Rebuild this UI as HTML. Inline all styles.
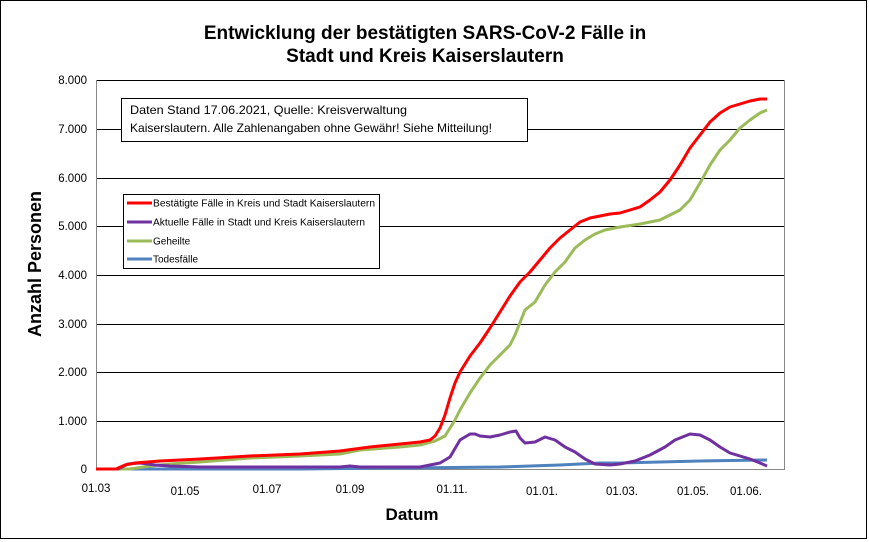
<!DOCTYPE html>
<html><head><meta charset="utf-8"><style>
html,body{margin:0;padding:0;background:#fff}
svg{display:block;font-family:"Liberation Sans",Arial,sans-serif}
</style></head><body>
<svg width="869" height="542" viewBox="0 0 869 542" xmlns="http://www.w3.org/2000/svg">
<rect x="0.5" y="0.5" width="866" height="538" fill="#fff" stroke="#000" stroke-width="1"/>
<text x="425" y="39" font-size="19" font-weight="bold" text-anchor="middle">Entwicklung der bestätigten SARS-CoV-2 Fälle in</text>
<text x="425" y="62" font-size="19" font-weight="bold" text-anchor="middle">Stadt und Kreis Kaiserslautern</text>
<g stroke="#000" stroke-width="1">
<line x1="96" y1="80.5" x2="784" y2="80.5"/>
<line x1="96" y1="129.5" x2="784" y2="129.5"/>
<line x1="96" y1="178.5" x2="784" y2="178.5"/>
<line x1="96" y1="226.5" x2="784" y2="226.5"/>
<line x1="96" y1="275.5" x2="784" y2="275.5"/>
<line x1="96" y1="324.5" x2="784" y2="324.5"/>
<line x1="96" y1="372.5" x2="784" y2="372.5"/>
<line x1="96" y1="421.5" x2="784" y2="421.5"/>
</g>
<line x1="96" y1="469.5" x2="784" y2="469.5" stroke="#888"/>
<line x1="784.5" y1="80" x2="784.5" y2="470" stroke="#888"/>
<line x1="96.5" y1="80" x2="96.5" y2="470" stroke="#888"/>
<g font-size="11.5" text-anchor="end">
<text x="87" y="84">8.000</text><text x="87" y="133">7.000</text><text x="87" y="182">6.000</text>
<text x="87" y="230">5.000</text><text x="87" y="279">4.000</text><text x="87" y="328">3.000</text>
<text x="87" y="376">2.000</text><text x="87" y="425">1.000</text><text x="87" y="473">0</text>
</g>
<g font-size="11.5" text-anchor="middle">
<text x="96" y="492">01.03</text><text x="185" y="495">01.05</text><text x="267" y="493">01.07</text>
<text x="350" y="493">01.09</text><text x="452" y="493">01.11.</text><text x="542" y="495">01.01.</text>
<text x="622" y="495">01.03.</text><text x="693" y="495">01.05.</text><text x="746" y="495">01.06.</text>
</g>
<text x="412" y="520" font-size="17" font-weight="bold" text-anchor="middle">Datum</text>
<text transform="translate(41,264) rotate(-90)" font-size="18" font-weight="bold" text-anchor="middle">Anzahl Personen</text>
<g fill="none" stroke-width="3" stroke-linejoin="round">
<polyline stroke="#4f81bd" points="96,469 300,469 500,467 560,465 600,463 620,463 700,461 767,460"/>
<polyline stroke="#9bbb59" points="96,469 130,469 150,466 170,464 200,462 250,458 300,456 340,454 360,450 400,447 420,445 435,441 445,436 455,420 460,410 470,393 480,378 490,365 500,355 510,345 515,335 525,310 535,302 545,285 555,272 565,262 575,248 585,240 595,234 605,230 620,227 640,224 660,220 680,210 690,200 700,183 710,165 720,150 730,140 740,128 750,120 760,113 767,110"/>
<polyline stroke="#7030a0" points="96,469 118,469 128,464 140,463 155,465 170,466 200,467 300,467 340,467 350,466 360,467 420,467 430,465 440,463 450,457 460,440 470,434 475,434 480,436 490,437 500,435 510,432 516,431 520,438 525,443 535,442 545,437 555,440 565,447 575,452 585,459 595,464 610,465 620,464 635,461 650,455 665,447 675,440 690,434 700,435 710,440 720,447 730,453 740,456 750,459 760,463 767,466"/>
<polyline stroke="#ff0000" points="96,469 116,469 125,465 135,463 160,461 200,459 250,456 300,454 340,451 370,447 400,444 420,442 430,440 435,436 440,428 445,415 450,398 455,383 460,372 465,364 470,356 480,343 490,328 500,312 510,296 520,282 530,272 540,260 550,248 560,238 570,230 580,222 590,218 600,216 610,214 620,213 630,210 640,207 650,200 660,192 670,180 680,165 690,148 700,135 710,122 720,113 730,107 740,104 750,101 760,99 767,99"/>
</g>
<rect x="121.5" y="98.5" width="406" height="43" fill="#fff" stroke="#000"/>
<text x="130" y="114" font-size="12" textLength="277" lengthAdjust="spacingAndGlyphs">Daten Stand 17.06.2021, Quelle: Kreisverwaltung</text>
<text x="130" y="132" font-size="12" textLength="362" lengthAdjust="spacingAndGlyphs">Kaiserslautern. Alle Zahlenangaben ohne Gewähr! Siehe Mitteilung!</text>
<rect x="123.5" y="194.5" width="256" height="74" fill="#fff" stroke="#000"/>
<g stroke-width="3">
<line x1="127" y1="203" x2="152" y2="203" stroke="#ff0000"/>
<line x1="127" y1="222" x2="152" y2="222" stroke="#7030a0"/>
<line x1="127" y1="241" x2="152" y2="241" stroke="#9bbb59"/>
<line x1="127" y1="259" x2="152" y2="259" stroke="#4f81bd"/>
</g>
<g font-size="10">
<text x="153" y="206.5" textLength="222" lengthAdjust="spacingAndGlyphs">Bestätigte Fälle in Kreis und Stadt Kaiserslautern</text>
<text x="153" y="225.5" textLength="212" lengthAdjust="spacingAndGlyphs">Aktuelle Fälle in Stadt und Kreis Kaiserslautern</text>
<text x="153" y="244.5">Geheilte</text>
<text x="153" y="262.5">Todesfälle</text>
</g>
</svg>
</body></html>
